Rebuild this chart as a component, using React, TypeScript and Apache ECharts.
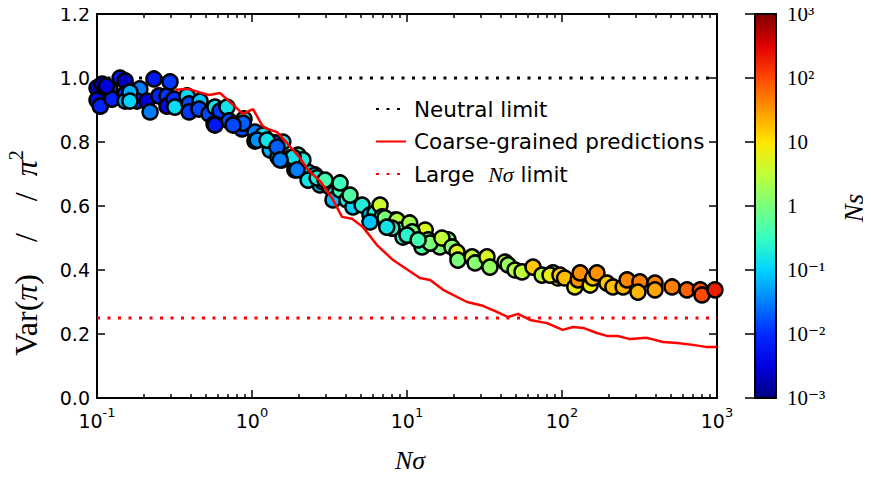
import React, { useEffect, useRef } from 'react';
import * as echarts from 'echarts';

// ---- Scatter data: N*sigma, Var(pi)/pi^2, Ns (colour) ----
const scatterNsigma = [
  0.100, 0.100, 0.108, 0.105, 0.141, 0.152, 0.121, 0.125, 0.152, 0.152,
  0.189, 0.181, 0.210, 0.220, 0.233, 0.251, 0.283, 0.283, 0.296, 0.314,
  0.318, 0.381, 0.393, 0.393, 0.462, 0.455, 0.528, 0.577, 0.622, 0.569,
  0.690, 0.711, 0.766, 0.888, 0.862, 1.045, 1.045, 0.875, 1.18, 1.37,
  1.58, 1.41, 1.31, 1.47, 1.56, 1.76, 1.89, 2.10, 1.98, 2.30,
  2.55, 2.30, 2.75, 2.87, 3.19, 3.43, 3.33, 3.70, 4.10, 4.48,
  5.13, 5.77, 6.22, 6.70, 6.90, 7.54, 8.37, 2.13, 2.63, 4.29,
  7.21, 8.62, 9.01, 10.4, 9.42, 11.3, 13.1, 13.7, 16.3, 18.4,
  8.0, 10.8, 12.5, 14.1, 16.8, 19.5, 21.0, 21.3, 26.3, 27.5,
  32.8, 34.3, 42.9, 44.9, 49.8, 55.2, 65.0, 74.3, 87.5, 94.2,
  83.7, 97, 104, 121, 127, 131, 152, 158, 168, 195,
  213, 248, 263, 318, 309, 398, 398, 513, 640, 780,
  800, 970, 0.163, 0.115, 0.163, 1.08, 1.25, 1.45, 1.84, 2.96,
  3.70, 1.52, 1.95, 0.577, 0.755, 10.0, 11.8, 5.77, 7.4,
];
const scatterVar = [
  0.969, 0.931, 0.981, 0.912, 1.000, 0.991, 0.966, 0.934, 0.950, 0.928,
  0.966, 0.928, 0.928, 0.894, 0.997, 0.944, 0.944, 0.912, 0.988, 0.934,
  0.909, 0.944, 0.919, 0.894, 0.928, 0.903, 0.888, 0.909, 0.897, 0.856,
  0.909, 0.866, 0.856, 0.872, 0.841, 0.831, 0.803, 0.859, 0.822, 0.791,
  0.800, 0.797, 0.775, 0.753, 0.744, 0.750, 0.713, 0.738, 0.759, 0.706,
  0.697, 0.681, 0.666, 0.675, 0.659, 0.641, 0.619, 0.650, 0.619, 0.597,
  0.603, 0.572, 0.578, 0.603, 0.566, 0.534, 0.556, 0.744, 0.688, 0.634,
  0.563, 0.556, 0.525, 0.547, 0.503, 0.503, 0.525, 0.494, 0.472, 0.494,
  0.531, 0.519, 0.472, 0.484, 0.500, 0.472, 0.456, 0.431, 0.441, 0.422,
  0.441, 0.409, 0.425, 0.416, 0.400, 0.394, 0.409, 0.384, 0.391, 0.375,
  0.384, 0.384, 0.375, 0.347, 0.369, 0.391, 0.353, 0.375, 0.391, 0.359,
  0.347, 0.347, 0.369, 0.363, 0.331, 0.359, 0.338, 0.347, 0.338, 0.338,
  0.322, 0.338, 0.956, 0.975, 0.928, 0.806, 0.806, 0.784, 0.753, 0.681,
  0.672, 0.744, 0.713, 0.853, 0.853, 0.509, 0.494, 0.550, 0.534,
];
const scatterNs = [
  0.002, 0.004, 0.002, 0.008, 0.006, 0.002, 0.008, 0.007, 0.010, 0.05,
  0.03, 0.010, 0.003, 0.03, 0.006, 0.008, 0.012, 0.004, 0.012, 0.010,
  0.12, 0.12, 0.015, 0.012, 0.08, 0.015, 0.015, 0.15, 0.012, 0.005,
  0.15, 0.015, 0.02, 0.15, 0.015, 0.03, 0.10, 0.02, 0.15, 0.04,
  0.15, 0.02, 0.06, 0.12, 0.04, 0.15, 0.05, 0.15, 0.4, 0.12,
  0.05, 0.15, 0.08, 0.2, 0.35, 0.18, 0.07, 0.4, 0.2, 0.1,
  0.2, 0.08, 0.2, 4, 0.4, 0.2, 0.8, 0.18, 0.2, 0.5,
  1, 2.5, 0.5, 2, 0.25, 0.5, 5, 1, 1, 1.2,
  0.25, 1, 0.5, 1, 3, 1.2, 5, 1, 3, 1.2,
  5, 1.5, 3, 1.5, 2.5, 3, 15, 3, 6, 6,
  7, 15, 18, 7, 35, 35, 8, 18, 35, 15,
  18, 20, 40, 45, 20, 45, 25, 45, 70, 90,
  100, 200, 0.06, 0.003, 0.1, 0.04, 0.15, 0.02, 0.15, 0.4,
  0.35, 0.03, 0.03, 0.006, 0.015, 0.25, 0.4, 0.08, 0.15,
];

// ---- Coarse-grained prediction curve ----
const predNsigma = [
  0.318, 0.386, 0.455, 0.528, 0.622, 0.743, 0.875, 1.015, 1.16, 1.21,
  1.45, 1.68, 2.04, 2.30, 2.75, 3.28, 3.81, 4.42, 5.20, 6.40,
  8.13, 12.1, 14.1, 17.1, 24.4, 30.9, 38.0, 44.9, 52.0, 62.2,
  80.0, 101, 118, 137, 168, 195, 229, 275, 353, 449,
  552, 700, 862, 1000,
];
const predVar = [
  0.963, 0.966, 0.956, 0.947, 0.953, 0.919, 0.888, 0.903, 0.853, 0.844,
  0.831, 0.797, 0.750, 0.713, 0.678, 0.625, 0.566, 0.560, 0.534, 0.478,
  0.431, 0.375, 0.369, 0.338, 0.300, 0.288, 0.269, 0.253, 0.263, 0.244,
  0.234, 0.213, 0.222, 0.219, 0.203, 0.194, 0.194, 0.184, 0.188, 0.175,
  0.172, 0.166, 0.159, 0.159,
];

const neutralLimit = 1.0;
const largeLimit = 0.25;
const xRange = [0.1, 1000];

const xMajorTicks = [0.1, 1, 10, 100, 1000];
const xMinorTicks: number[] = [];
[0.1, 1, 10, 100].forEach((d) => {
  for (let k = 2; k <= 9; k++) xMinorTicks.push(+(d * k).toPrecision(3));
});
const yTicks = [0, 0.2, 0.4, 0.6, 0.8, 1.0, 1.2];
const nsTicks = [0.001, 0.01, 0.1, 1, 10, 100, 1000];
const nsTickLabels = ['10⁻³', '10⁻²', '10⁻¹', '1', '10', '10²', '10³'];

const jet = [
  '#000080', '#0000e0', '#002aff', '#0080ff', '#00d4ff', '#37ffc0', '#7bff7b',
  '#c0ff37', '#ffe600', '#ff9700', '#ff4800', '#e00000', '#800000',
];

const SANS = 'DejaVu Sans';
const SERIF = 'Liberation Serif';
const NB = '\u00A0';

export default function App() {
  const ref = useRef<HTMLDivElement>(null);
  useEffect(() => {
    if (!ref.current) return;
    const chart = echarts.init(ref.current, undefined, { renderer: 'svg' });

    const scatterData = scatterNsigma.map((x, i) => [x, scatterVar[i], Math.log10(scatterNs[i])]);
    const predData = predNsigma.map((x, i) => [x, predVar[i]]);

    const supRich = {
      b: { fontFamily: SANS, fontSize: 19, color: '#000', verticalAlign: 'bottom', lineHeight: 24 },
      s: { fontFamily: SANS, fontSize: 13, color: '#000', verticalAlign: 'top', lineHeight: 14 },
    };

    const tickLine = { color: '#000', width: 1.5 };

    const option: any = {
      animation: false,
      backgroundColor: '#fff',
      grid: [
        { left: 97, top: 14, width: 620, height: 384, show: true, borderColor: '#000', borderWidth: 2, backgroundColor: 'transparent' },
        { left: 755, top: 14, width: 21, height: 384, show: false },
      ],
      xAxis: [
        {
          gridIndex: 0, type: 'log', logBase: 10, min: xRange[0], max: xRange[1], position: 'bottom',
          axisLine: { show: false }, splitLine: { show: false },
          axisTick: { inside: true, length: 8, lineStyle: tickLine, customValues: xMajorTicks },
          axisLabel: {
            customValues: xMajorTicks, margin: 8,
            formatter: (v: number) => `{b|10}{s|${Math.round(Math.log10(v))}}`,
            rich: supRich,
          },
        },
        {
          gridIndex: 0, type: 'log', logBase: 10, min: xRange[0], max: xRange[1], position: 'bottom',
          axisLine: { show: false }, splitLine: { show: false },
          axisTick: { inside: true, length: 4, lineStyle: tickLine, customValues: xMinorTicks },
          axisLabel: { show: false },
        },
        {
          gridIndex: 0, type: 'log', logBase: 10, min: xRange[0], max: xRange[1], position: 'top',
          axisLine: { show: false }, splitLine: { show: false },
          axisTick: { inside: true, length: 8, lineStyle: tickLine, customValues: xMajorTicks },
          axisLabel: { show: false },
        },
        {
          gridIndex: 0, type: 'log', logBase: 10, min: xRange[0], max: xRange[1], position: 'top',
          axisLine: { show: false }, splitLine: { show: false },
          axisTick: { inside: true, length: 4, lineStyle: tickLine, customValues: xMinorTicks },
          axisLabel: { show: false },
        },
        { gridIndex: 1, type: 'value', min: 0, max: 1, show: false },
      ],
      yAxis: [
        {
          gridIndex: 0, type: 'value', min: 0, max: 1.2, interval: 0.2, position: 'left',
          axisLine: { show: false }, splitLine: { show: false },
          axisTick: { inside: true, length: 8, lineStyle: tickLine, customValues: yTicks },
          axisLabel: {
            customValues: yTicks, margin: 7, fontFamily: SANS, fontSize: 19, color: '#000',
            formatter: (v: number) => v.toFixed(1),
          },
        },
        {
          gridIndex: 0, type: 'value', min: 0, max: 1.2, interval: 0.2, position: 'right',
          axisLine: { show: false }, splitLine: { show: false },
          axisTick: { inside: true, length: 8, lineStyle: tickLine },
          axisLabel: { show: false },
        },
        {
          gridIndex: 1, type: 'log', logBase: 10, min: 0.001, max: 1000, position: 'right',
          axisLine: { show: false }, splitLine: { show: false },
          axisTick: { inside: true, length: 10, lineStyle: tickLine, customValues: nsTicks },
          axisLabel: {
            customValues: nsTicks, margin: 11,
            fontFamily: `"${SERIF}", "DejaVu Serif", serif`, fontSize: 21, color: '#000',
            formatter: (v: number) => nsTickLabels[Math.round(Math.log10(v)) + 3],
          },
        },
      ],
      visualMap: {
        type: 'continuous', show: false, seriesIndex: 1, dimension: 2, min: -3, max: 3,
        inRange: { color: jet },
      },
      legend: {
        orient: 'vertical', left: 370, top: 93, padding: 5, itemWidth: 30, itemHeight: 22, itemGap: 10.5,
        selectedMode: false,
        itemStyle: { color: 'rgba(0,0,0,0)', borderColor: 'rgba(0,0,0,0)', borderWidth: 0 },
        data: ['Neutral limit', 'Coarse-grained predictions', 'Large Nσ limit'],
        formatter: (n: string) => (n === 'Large Nσ limit' ? 'Large  {i|Nσ} limit' : n),
        textStyle: {
          fontFamily: SANS, fontSize: 21.5, lineHeight: 22, color: '#000', padding: [0, 0, 0, 3],
          rich: { i: { fontFamily: SERIF, fontStyle: 'italic', fontSize: 22, lineHeight: 22, color: '#000' } },
        },
      },
      series: [
        {
          name: 'Neutral limit', type: 'line', xAxisIndex: 0, yAxisIndex: 0, z: 1,
          data: [[xRange[0], neutralLimit], [xRange[1], neutralLimit]],
          symbol: 'none', showSymbol: false, silent: true,
          itemStyle: { color: '#000' },
          lineStyle: { color: '#000', width: 3, type: [3, 7.5] },
        },
        {
          name: 'points', type: 'scatter', xAxisIndex: 0, yAxisIndex: 0, z: 2, clip: true,
          data: scatterData, symbolSize: 15,
          itemStyle: { borderColor: '#000', borderWidth: 2.5, opacity: 1 },
        },
        {
          name: 'Coarse-grained predictions', type: 'line', xAxisIndex: 0, yAxisIndex: 0, z: 3,
          data: predData, symbol: 'none', showSymbol: false, silent: true,
          itemStyle: { color: '#ff0000' },
          lineStyle: { color: '#ff0000', width: 2.5 },
        },
        {
          name: 'Large Nσ limit', type: 'line', xAxisIndex: 0, yAxisIndex: 0, z: 3,
          data: [[xRange[0], largeLimit], [xRange[1], largeLimit]],
          symbol: 'none', showSymbol: false, silent: true,
          itemStyle: { color: '#ff0000' },
          lineStyle: { color: '#ff0000', width: 3, type: [3, 7.5] },
        },
      ],
      graphic: [
        {
          type: 'rect', z: -1,
          shape: { x: 755, y: 14, width: 21, height: 384 },
          style: {
            fill: {
              type: 'linear', x: 0, y: 0, x2: 0, y2: 1,
              colorStops: jet.slice().reverse().map((c, i) => ({ offset: i / (jet.length - 1), color: c })),
            },
            stroke: '#000', lineWidth: 2,
          },
        },
        {
          type: 'text', x: 410, y: 460,
          style: {
            text: 'Nσ', align: 'center', verticalAlign: 'middle',
            font: `italic 26px "${SERIF}"`, fill: '#000',
          },
        },
        {
          type: 'text', x: 854, y: 208, rotation: Math.PI / 2,
          style: {
            text: 'Ns', align: 'center', verticalAlign: 'middle',
            font: `italic 27px "${SERIF}"`, fill: '#000',
          },
        },
        {
          type: 'text', x: 24, y: 253, rotation: Math.PI / 2,
          style: {
            text: `{r|Var(}{i|π}{r|)${NB.repeat(4)}/${NB.repeat(4)}/${NB.repeat(2)}}{i|π}{s|2}`,
            align: 'center', verticalAlign: 'middle',
            font: `32px "${SERIF}"`, fill: '#000',
            rich: {
              r: { font: `32px "${SERIF}"`, fontSize: 32, fontFamily: SERIF, fill: '#000', verticalAlign: 'bottom', lineHeight: 36 },
              i: { font: `italic 32px "${SERIF}"`, fontSize: 32, fontFamily: SERIF, fontStyle: 'italic', fill: '#000', verticalAlign: 'bottom', lineHeight: 36 },
              s: { font: `20px "${SERIF}"`, fontSize: 20, fontFamily: SERIF, fill: '#000', verticalAlign: 'top', lineHeight: 20 },
            },
          },
        },
      ],
    };

    chart.setOption(option);
    return () => chart.dispose();
  }, []);

  return <div ref={ref} style={{ width: 871, height: 479, margin: -8 }} />;
}
